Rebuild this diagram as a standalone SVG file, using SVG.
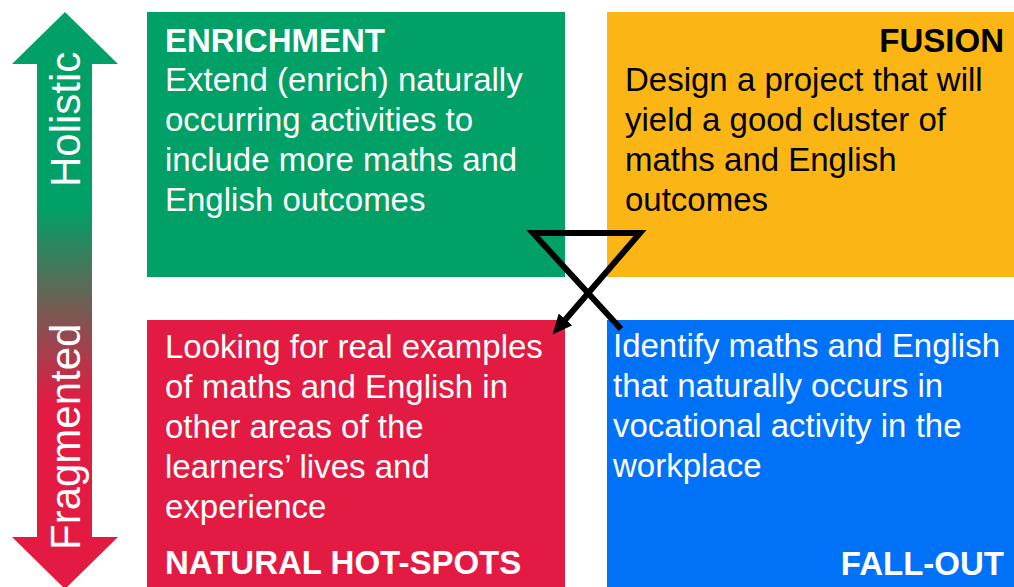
<svg xmlns="http://www.w3.org/2000/svg" width="1014" height="587" viewBox="0 0 1014 587">
  <style>
    text { font-family: "Liberation Sans", Arial, sans-serif; font-size: 33px; }
    .title { font-weight: bold; }
    .w { fill: #ffffff; }
    .k { fill: #000000; }
    .end { text-anchor: end; }
    .side { font-size: 42px; fill: #ffffff; }
  </style>
  <defs>
    <linearGradient id="grad" gradientUnits="userSpaceOnUse" x1="0" y1="12" x2="0" y2="589">
      <stop offset="0.34" stop-color="#00A066"/>
      <stop offset="0.68" stop-color="#E31B42"/>
    </linearGradient>
    <marker id="arrow" markerUnits="userSpaceOnUse" markerWidth="20" markerHeight="18" viewBox="0 0 20 18" refX="10" refY="9" orient="auto">
      <path d="M0,0 L20,9 L0,18 z" fill="#000000"/>
    </marker>
  </defs>

  <g id="axis">
    <polygon points="65,12 118,64 92,64 92,537 118,537 65,589 12,537 37,537 37,64 12,64" fill="url(#grad)"/>
    <text class="side" transform="translate(80,187) rotate(-90)">Holistic</text>
    <text class="side" transform="translate(80,550) rotate(-90)">Fragmented</text>
  </g>

  <g id="enrichment">
    <rect x="147" y="12" width="418" height="265" fill="#00A066"/>
    <text class="title w" x="165" y="52">ENRICHMENT</text>
    <text class="w" x="165" y="91">Extend (enrich) naturally</text>
    <text class="w" x="165" y="131">occurring activities to</text>
    <text class="w" x="165" y="171">include more maths and</text>
    <text class="w" x="165" y="211">English outcomes</text>
  </g>

  <g id="fusion">
    <rect x="607" y="12" width="407" height="265" fill="#FBB615"/>
    <text class="title k end" x="1004" y="52">FUSION</text>
    <text class="k" x="625" y="91">Design a project that will</text>
    <text class="k" x="625" y="131">yield a good cluster of</text>
    <text class="k" x="625" y="171">maths and English</text>
    <text class="k" x="625" y="211">outcomes</text>
  </g>

  <g id="natural-hot-spots">
    <rect x="147" y="320" width="418" height="267" fill="#E31B42"/>
    <text class="w" x="165" y="358">Looking for real examples</text>
    <text class="w" x="165" y="398">of maths and English in</text>
    <text class="w" x="165" y="438">other areas of the</text>
    <text class="w" x="165" y="478">learners’ lives and</text>
    <text class="w" x="165" y="518">experience</text>
    <text class="title w" x="165" y="574">NATURAL HOT-SPOTS</text>
  </g>

  <g id="fall-out">
    <rect x="607" y="320" width="407" height="267" fill="#0072F8"/>
    <text class="w" x="613" y="357">Identify maths and English</text>
    <text class="w" x="613" y="397">that naturally occurs in</text>
    <text class="w" x="613" y="437">vocational activity in the</text>
    <text class="w" x="613" y="477">workplace</text>
    <text class="title w end" x="1004" y="575">FALL-OUT</text>
  </g>

  <g id="connectors">
    <polyline points="621,329 533,233 640,233 559,327" fill="none" stroke="#000000" stroke-width="6" stroke-linejoin="miter" marker-end="url(#arrow)"/>
  </g>
</svg>
